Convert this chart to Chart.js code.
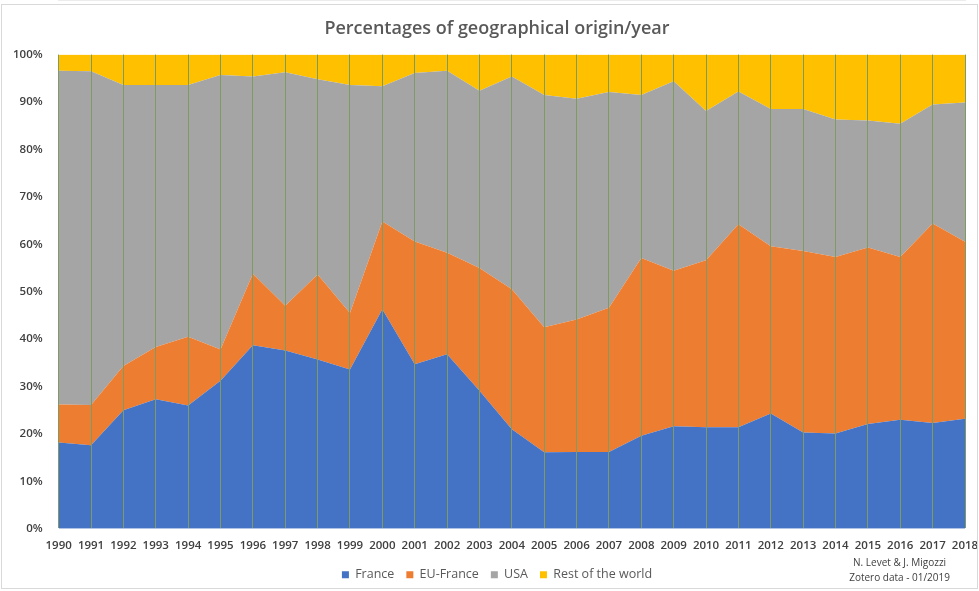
<!DOCTYPE html>
<html>
<head>
<meta charset="utf-8">
<script src="https://cdn.jsdelivr.net/npm/chart.js@4"></script>
<style>
  body { margin: 0; background: #fff; }
  #wrap { position: relative; width: 979px; height: 591px; }
  #frame { position: absolute; left: 1px; top: 4px; right: 1px; bottom: 2px; border: 1px solid #d9d9d9; pointer-events: none; }
  #note { position: absolute; right: 29px; top: 555px; font: 10px "Open Sans", sans-serif; color: #404040; text-align: center; line-height: 15px; }
</style>
</head>
<body>
<div id="wrap">
  <canvas id="chart" width="979" height="591"></canvas>
  <div id="frame"></div>
  <div id="note">N. Levet &amp; J. Migozzi<br>Zotero data - 01/2019</div>
</div>
<script>
// years on the x axis
var years = ["1990", "1991", "1992", "1993", "1994", "1995", "1996", "1997", "1998", "1999",
  "2000", "2001", "2002", "2003", "2004", "2005", "2006", "2007", "2008", "2009",
  "2010", "2011", "2012", "2013", "2014", "2015", "2016", "2017", "2018"];

// shares in %, each year sums to 100
var france = [18.2, 17.6, 25.0, 27.3, 26.0, 31.2, 38.7, 37.6, 35.7, 33.6,
  46.3, 34.7, 36.8, 29.1, 21.0, 16.1, 16.2, 16.2, 19.6, 21.6,
  21.4, 21.4, 24.3, 20.3, 20.1, 22.1, 23.0, 22.3, 23.2];
var euFrance = [8.0, 8.5, 9.3, 11.0, 14.5, 6.6, 15.1, 9.4, 17.9, 11.9,
  18.5, 25.9, 21.4, 25.9, 29.5, 26.4, 27.9, 30.4, 37.5, 32.8,
  35.2, 42.8, 35.3, 38.3, 37.2, 37.2, 34.3, 42.1, 37.3];
var usa = [70.4, 70.4, 59.3, 55.3, 53.1, 57.9, 41.6, 49.3, 41.2, 48.1,
  28.5, 35.5, 38.4, 37.4, 44.9, 49.0, 46.6, 45.5, 34.4, 40.0,
  31.5, 28.0, 28.9, 29.9, 29.0, 26.8, 28.1, 25.1, 29.4];
var rest = [3.4, 3.5, 6.4, 6.4, 6.4, 4.3, 4.6, 3.7, 5.2, 6.4,
  6.7, 3.9, 3.4, 7.6, 4.6, 8.5, 9.3, 7.9, 8.5, 5.6,
  11.9, 7.8, 11.5, 11.5, 13.7, 13.9, 14.6, 10.5, 10.1];

var seriesNames = ["France", "EU-France", "USA", "Rest of the world"];
var seriesColors = ["#4472c4", "#ed7d31", "#a5a5a5", "#ffc000"];
var yTicks = [0, 10, 20, 30, 40, 50, 60, 70, 80, 90, 100];

var font = "'Open Sans', sans-serif";

function area(i, values) {
  return {
    label: seriesNames[i],
    data: values,
    backgroundColor: seriesColors[i],
    borderColor: seriesColors[i],
    borderWidth: 0,
    pointRadius: 0,
    fill: i === 0 ? "origin" : "-1",
    tension: 0
  };
}

new Chart("chart", {
  type: "line",
  data: {
    labels: years,
    datasets: [area(0, france), area(1, euFrance), area(2, usa), area(3, rest)]
  },
  options: {
    responsive: false,
    animation: false,
    layout: { padding: { left: 5, right: -10, top: 0, bottom: 0 } },
    plugins: {
      title: {
        display: true,
        text: "Percentages of geographical origin/year",
        color: "#595959",
        font: { family: font, size: 18, weight: "600" },
        padding: { top: 18, bottom: 15 }
      },
      legend: {
        position: "bottom",
        labels: {
          color: "#595959",
          font: { family: font, size: 12.5 },
          boxWidth: 7,
          boxHeight: 7,
          padding: 12
        }
      },
      tooltip: { enabled: false }
    },
    scales: {
      x: {
        grid: { color: "#7f9a62", lineWidth: 1, drawTicks: false, z: 1 },
        border: { color: "#d9d9d9" },
        ticks: { color: "#404040", font: { family: font, size: 11.5, weight: "600" }, padding: 10, maxRotation: 0, autoSkip: false },
        afterFit: function (axis) {
          axis.height -= 6;
          axis.paddingRight = 14;
        }
      },
      y: {
        stacked: true,
        min: 0,
        max: 100,
        afterBuildTicks: function (axis) {
          axis.ticks = yTicks.map(function (v) { return { value: v }; });
        },
        grid: { display: false },
        border: { display: false },
        ticks: {
          color: "#404040",
          font: { family: font, size: 11.5, weight: "600" },
          padding: 8,
          callback: function (v) { return v + "%"; }
        }
      }
    }
  }
});
</script>
</body>
</html>
